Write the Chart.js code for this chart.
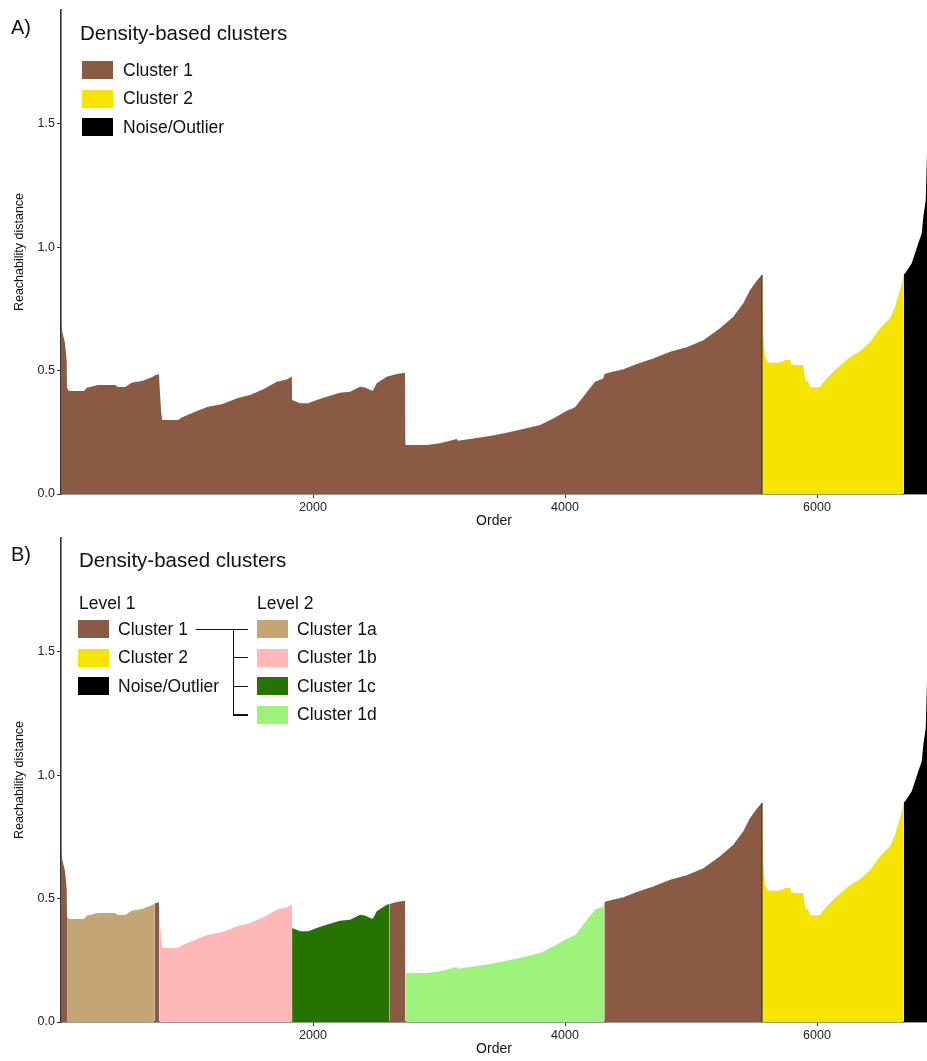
<!DOCTYPE html>
<html>
<head>
<meta charset="utf-8">
<title>Reachability plot – density-based clusters</title>
<script src="https://cdn.jsdelivr.net/npm/chart.js@4/dist/chart.umd.min.js"></script>
<style>
  html, body { margin: 0; padding: 0; background: #ffffff; }
  #page { position: relative; width: 927px; height: 1061px; overflow: hidden;
          font-family: "Liberation Sans", Arial, Helvetica, sans-serif; color: #111; }
  canvas { position: absolute; left: 0; }
  .txt { position: absolute; white-space: nowrap; line-height: 1; }
  .sw  { position: absolute; width: 31px; height: 18px; }
  .ln  { position: absolute; background: #111; }
</style>
</head>
<body>
<div id="page">
  <canvas id="chartA" width="927" height="530" style="top:0px"></canvas>
  <canvas id="chartB" width="927" height="530" style="top:528px"></canvas>
</div>
<script>
// ---- reachability profile (order position -> reachability distance) ----
const orderPts = [
  0, 10, 32, 45, 48, 53, 63, 183, 204, 294, 429, 452, 508, 561, 651, 730, 741, 778,
  780, 795, 804, 929, 958, 1064, 1167, 1275, 1405, 1500, 1606, 1712, 1791, 1832,
  1834, 1897, 1963, 2029, 2109, 2214, 2294, 2373, 2413, 2453, 2474, 2506, 2585,
  2606, 2664, 2730, 2733, 2903, 3008, 3087, 3140, 3151, 3272, 3405, 3537, 3669,
  3802, 3907, 4014, 4080, 4145, 4238, 4304, 4312, 4344, 4463, 4569, 4701, 4834,
  4966, 5098, 5230, 5336, 5415, 5469, 5522, 5561, 5564, 5572, 5588, 5614, 5693,
  5746, 5786, 5800, 5892, 5905, 5931, 5945, 6024, 6038, 6143, 6249, 6355, 6434,
  6500, 6580, 6620, 6673, 6685, 6688, 6699, 6752, 6804, 6831, 6844, 6863, 6873
];
const reachVals = [
  0.704, 0.657, 0.610, 0.540, 0.430, 0.425, 0.417, 0.417, 0.430, 0.441, 0.441, 0.433, 0.433, 0.451, 0.459, 0.475, 0.480, 0.485,
  0.460, 0.330, 0.300, 0.300, 0.310, 0.333, 0.353, 0.363, 0.389, 0.401, 0.424, 0.455, 0.464, 0.476,
  0.381, 0.367, 0.367, 0.381, 0.394, 0.410, 0.414, 0.434, 0.431, 0.421, 0.418, 0.448, 0.475,
  0.478, 0.486, 0.491, 0.198, 0.198, 0.206, 0.216, 0.223, 0.216, 0.225, 0.235, 0.248, 0.263,
  0.279, 0.306, 0.337, 0.351, 0.394, 0.455, 0.468, 0.485, 0.491, 0.505, 0.526, 0.549, 0.576,
  0.594, 0.623, 0.671, 0.718, 0.772, 0.826, 0.864, 0.887, 0.879, 0.660, 0.555, 0.532, 0.532,
  0.543, 0.543, 0.522, 0.522, 0.462, 0.455, 0.432, 0.432, 0.445, 0.502, 0.549, 0.583, 0.623,
  0.671, 0.711, 0.758, 0.853, 0.887, 0.890, 0.893, 0.934, 1.015, 1.055, 1.123, 1.190, 1.380
];

// ---- axes ----
const orderMax = 6873;
const reachMax = 1.96;
const xTickVals = [2000, 4000, 6000];
const yTickVals = [0, 0.5, 1.0, 1.5];

// ---- cluster levels ----
const level1Names  = ['Cluster 1', 'Cluster 2', 'Noise/Outlier'];
const level1Colors = ['#8A5A44', '#F5E400', '#000000'];
const level1Starts = [0, 5564, 6688];          // first order position of each level-1 run

const level2Names  = ['Cluster 1a', 'Cluster 1b', 'Cluster 1c', 'Cluster 1d'];
const level2Colors = ['#C4A676', '#FFB7B7', '#267300', '#9DF27C'];

// runs along the ordering once cluster 1 is split into its level-2 sub-clusters
const level2RunStarts = [0, 48, 741, 780, 1834, 2606, 2733, 4312, 5564, 6688];
const level2RunLabels = ['Cluster 1', 'Cluster 1a', 'Cluster 1', 'Cluster 1b', 'Cluster 1c',
                         'Cluster 1', 'Cluster 1d', 'Cluster 1', 'Cluster 2', 'Noise/Outlier'];

const FONT = '"Liberation Sans", Arial, Helvetica, sans-serif';
Chart.defaults.font.family = FONT;

function colourOf(label) {
  let i = level1Names.indexOf(label);
  if (i >= 0) return level1Colors[i];
  i = level2Names.indexOf(label);
  return level2Colors[i];
}

// points of the profile lying in [from, to]
function run(from, to) {
  const pts = [];
  for (let i = 0; i < orderPts.length; i++) {
    if (orderPts[i] >= from && orderPts[i] <= to) pts.push({ x: orderPts[i], y: reachVals[i] });
  }
  return pts;
}

function areaDatasets(starts, colours) {
  const sets = [];
  // dark edge where cluster 1 meets cluster 2
  const k = orderPts.indexOf(level1Starts[1]);
  sets.push({
    data: [{ x: orderPts[k] - 1, y: 0 }, { x: orderPts[k] - 1, y: reachVals[k - 1] }],
    borderColor: '#4A3A22', borderWidth: 1.3, pointRadius: 0, fill: false
  });
  for (let i = 0; i < starts.length; i++) {
    const to = i + 1 < starts.length ? starts[i + 1] : Infinity;
    sets.push({
      data: run(starts[i], to),
      backgroundColor: colours[i],
      borderWidth: 0, pointRadius: 0, tension: 0, fill: 'origin'
    });
  }
  return sets;
}

function chartOptions() {
  const axisColor = '#333333';
  return {
    responsive: false,
    animation: false,
    events: [],
    layout: { padding: { left: 0, right: 0, top: 10, bottom: 0 } },
    plugins: { legend: { display: false }, tooltip: { enabled: false } },
    scales: {
      x: {
        type: 'linear', min: 0, max: orderMax,
        afterBuildTicks: s => { s.ticks = xTickVals.map(v => ({ value: v })); },
        afterFit: s => { s.height = 36; },
        grid: { display: true, drawOnChartArea: false, drawTicks: true, tickLength: 4, color: axisColor, lineWidth: 1 },
        border: { display: true, color: axisColor, width: 1.6 },
        ticks: { color: '#222', font: { size: 12.5 }, padding: 2, maxRotation: 0, autoSkip: false,
                 callback: v => String(v) },
        title: { display: true, text: 'Order', color: '#111', font: { size: 14 }, padding: { top: 0, bottom: 0 } }
      },
      y: {
        type: 'linear', min: 0, max: reachMax,
        afterBuildTicks: s => { s.ticks = yTickVals.map(v => ({ value: v })); },
        afterFit: s => { s.width = 61; },
        grid: { display: true, drawOnChartArea: false, drawTicks: true, tickLength: 4, color: axisColor, lineWidth: 1 },
        border: { display: true, color: axisColor, width: 1.6 },
        ticks: { color: '#222', font: { size: 12.5 }, padding: 2, autoSkip: false,
                 callback: v => Number(v).toFixed(1) },
        title: { display: true, text: 'Reachability distance', color: '#111', font: { size: 12.5 },
                 padding: { top: 12, bottom: 0 } }
      }
    }
  };
}

new Chart(document.getElementById('chartA'), {
  type: 'line',
  data: { datasets: areaDatasets(level1Starts, level1Colors) },
  options: chartOptions()
});

new Chart(document.getElementById('chartB'), {
  type: 'line',
  data: { datasets: areaDatasets(level2RunStarts, level2RunLabels.map(colourOf)) },
  options: chartOptions()
});

// ---- panel labels and legends ----
const page = document.getElementById('page');
function addText(text, left, top, size) {
  const d = document.createElement('div');
  d.className = 'txt';
  d.textContent = text;
  d.style.left = left + 'px';
  d.style.top = top + 'px';
  d.style.fontSize = size + 'px';
  page.appendChild(d);
}
function addSwatch(color, left, top) {
  const d = document.createElement('div');
  d.className = 'sw';
  d.style.left = left + 'px';
  d.style.top = top + 'px';
  d.style.background = color;
  page.appendChild(d);
}
function addLine(left, top, w, h) {
  const d = document.createElement('div');
  d.className = 'ln';
  d.style.left = left + 'px';
  d.style.top = top + 'px';
  d.style.width = w + 'px';
  d.style.height = h + 'px';
  page.appendChild(d);
}

const ROW = 28.6;

// panel A
addText('A)', 11, 17, 20);
addText('Density-based clusters', 80, 22.5, 20.5);
level1Names.forEach((name, i) => {
  addSwatch(level1Colors[i], 82, 61 + i * ROW);
  addText(name, 123, 61.5 + i * ROW, 17.5);
});

// panel B
addText('B)', 11, 544, 20);
addText('Density-based clusters', 79, 549.5, 20.5);
addText('Level 1', 79, 595, 17.5);
addText('Level 2', 257, 595, 17.5);
level1Names.forEach((name, i) => {
  addSwatch(level1Colors[i], 78, 620 + i * ROW);
  addText(name, 118, 620.5 + i * ROW, 17.5);
});
level2Names.forEach((name, i) => {
  addSwatch(level2Colors[i], 257, 620 + i * ROW);
  addText(name, 297, 620.5 + i * ROW, 17.5);
});
// bracket linking cluster 1 to its sub-clusters
const rowMid = i => 628.5 + i * ROW;
addLine(196, rowMid(0), 52, 1.3);
addLine(232.5, rowMid(0), 1.3, 3 * ROW + 1.3);
for (let i = 1; i < level2Names.length; i++) addLine(232.5, rowMid(i), 15.5, 1.3);
</script>
</body>
</html>
